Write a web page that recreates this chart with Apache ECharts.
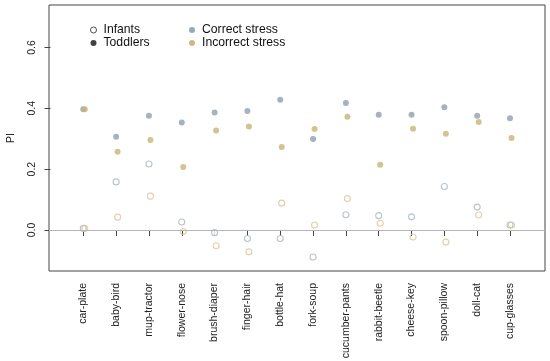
<!DOCTYPE html>
<html><head><meta charset="utf-8">
<script src="https://cdn.jsdelivr.net/npm/echarts@6/dist/echarts.min.js"></script>
<style>html,body{margin:0;padding:0;background:#fff}#c{width:550px;height:361px}</style>
</head><body><div id="c"></div>
<script>
const categories = ['car-plate','baby-bird','mup-tractor','flower-nose','brush-diaper','finger-hair','bottle-hat','fork-soup','cucumber-pants','rabbit-beetle','cheese-key','spoon-pillow','doll-cat','cup-glasses'];
const toddlersCorrect   = [0.397,0.306,0.375,0.353,0.386,0.391,0.428,0.299,0.417,0.379,0.379,0.403,0.375,0.367];
const toddlersIncorrect = [0.397,0.257,0.296,0.207,0.327,0.340,0.273,0.332,0.372,0.214,0.333,0.316,0.355,0.302];
const infantsCorrect    = [0.005,0.158,0.217,0.026,-0.009,-0.028,-0.028,-0.089,0.050,0.047,0.043,0.143,0.075,0.016];
const infantsIncorrect  = [0.005,0.042,0.111,-0.005,-0.052,-0.072,0.088,0.016,0.103,0.022,-0.023,-0.040,0.049,0.016];
const yTicks = [0, 0.2, 0.4, 0.6];

const pos = categories.map((_, i) => i + 1);
const toPts = arr => arr.map((v, i) => [pos[i], v]);

const C_BLUE = '#8e9fb0', C_ORANGE = '#c9b476';
const C_BLUE_O = '#a9b5bf', C_ORANGE_O = '#d8c594';

const chart = echarts.init(document.getElementById('c'), null, {renderer: 'canvas'});
const font = 'Liberation Sans, Arial, sans-serif';
const legendText = {fontSize: 12.2, fontFamily: font, color: '#111', lineHeight: 13};
chart.setOption({
  animation: false,
  grid: {left: 49, top: 5, right: 5, bottom: 90, outerBoundsMode: 'none', containLabel: false,
         show: true, borderColor: '#444', borderWidth: 1, backgroundColor: 'transparent'},
  legend: [
    {orient: 'vertical', left: 90, top: 23.5, padding: 0, itemWidth: 10, itemHeight: 6, itemGap: 0, icon: 'circle',
     textStyle: legendText,
     data: [
       {name: 'Infants', itemStyle: {color: '#fff', borderColor: '#222', borderWidth: 1}},
       {name: 'Toddlers', itemStyle: {color: '#111', borderWidth: 0}}
     ], selectedMode: false},
    {orient: 'vertical', left: 189, top: 23.5, padding: 0, itemWidth: 10, itemHeight: 6, itemGap: 0, icon: 'circle',
     textStyle: legendText,
     data: [
       {name: 'Correct stress', itemStyle: {color: '#7d91a2', borderWidth: 0}},
       {name: 'Incorrect stress', itemStyle: {color: '#bfa665', borderWidth: 0}}
     ], selectedMode: false}
  ],
  xAxis: {
    type: 'value', min: -0.045, max: 15.066,
    splitLine: {show: false}, axisLine: {show: false},
    axisTick: {show: true, length: 6, lineStyle: {color: '#444'}, customValues: pos},
    axisLabel: {customValues: pos, rotate: 90, margin: 12, fontSize: 10.5, fontFamily: font, color: '#222',
      formatter: v => categories[Math.round(v) - 1] || ''}
  },
  yAxis: {
    type: 'value', min: -0.135, max: 0.7395,
    name: 'PI', nameLocation: 'middle', nameGap: 32, nameTextStyle: {fontSize: 10.5, fontFamily: font, color: '#222'},
    splitLine: {show: false}, axisLine: {show: false},
    axisTick: {show: true, length: 6, lineStyle: {color: '#444'}, customValues: yTicks},
    axisLabel: {customValues: yTicks, rotate: 90, margin: 11, fontSize: 10.5, fontFamily: font, color: '#222',
      formatter: v => v.toFixed(1)}
  },
  series: [
    {name: 'Infants', type: 'scatter', data: []},
    {name: 'Toddlers', type: 'scatter', data: []},
    {name: 'Correct stress', type: 'scatter', data: []},
    {name: 'Incorrect stress', type: 'scatter', data: []},
    {name: 'Infants correct', type: 'scatter', symbolSize: 6, data: toPts(infantsCorrect),
     itemStyle: {color: '#fff', borderColor: C_BLUE_O, borderWidth: 1.1},
     markLine: {silent: true, symbol: 'none', label: {show: false}, lineStyle: {color: '#b5b5b5', type: 'solid', width: 1},
       data: [{yAxis: 0}]}},
    {name: 'Infants incorrect', type: 'scatter', symbolSize: 6, symbolOffset: [1.5, 0], data: toPts(infantsIncorrect),
     itemStyle: {color: 'rgba(255,255,255,0)', borderColor: C_ORANGE_O, borderWidth: 1.1}},
    {name: 'Toddlers correct', type: 'scatter', symbolSize: 6, data: toPts(toddlersCorrect),
     itemStyle: {color: C_BLUE}},
    {name: 'Toddlers incorrect', type: 'scatter', symbolSize: 6, symbolOffset: [1.5, 0], data: toPts(toddlersIncorrect),
     itemStyle: {color: C_ORANGE}}
  ]
});
</script></body></html>
